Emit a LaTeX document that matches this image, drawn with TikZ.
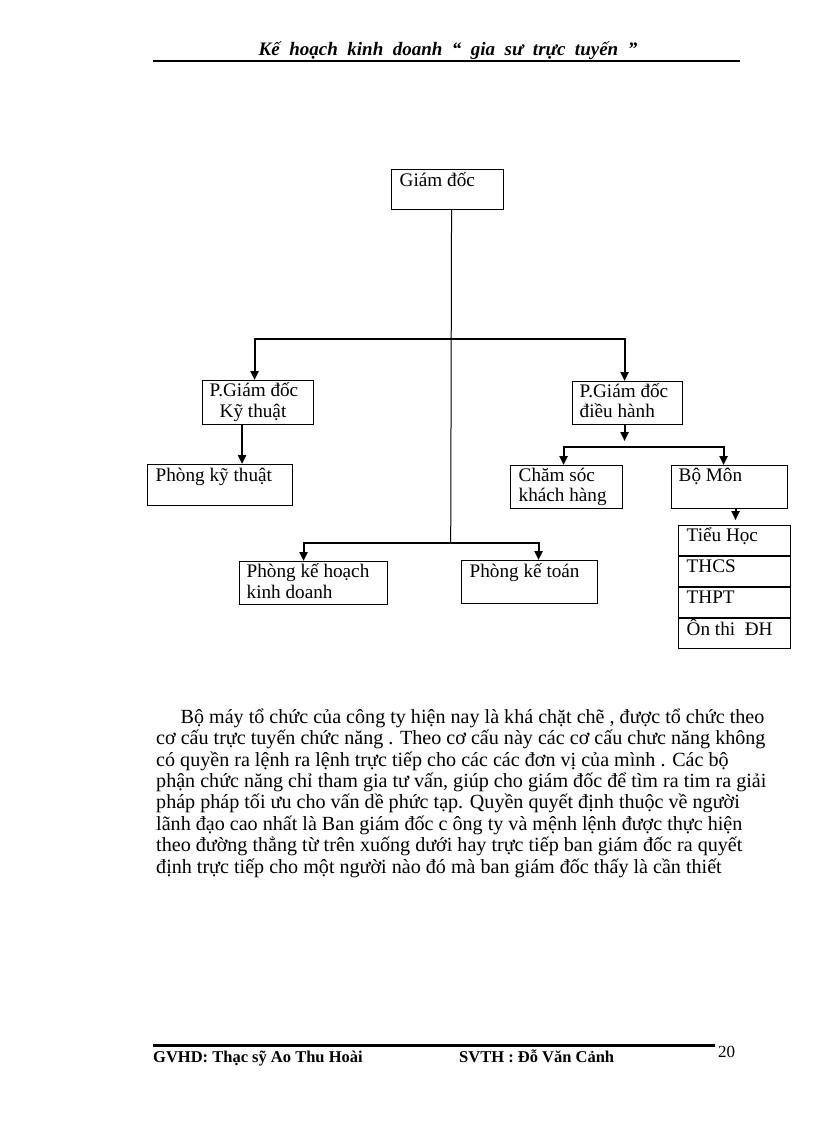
\documentclass[tikz,border=0pt]{standalone}
\usepackage{fontspec}
\setmainfont{Liberation Serif}
\usepackage{tikz}
\usetikzlibrary{positioning,arrows.meta,calc}
\newcommand\boxfnt{\fontsize{19.2}{20.4}\selectfont}
\newcommand\bodyfnt{\fontsize{20.1}{21.4}\selectfont}
\newcommand\headfnt{\fontsize{19}{22}\selectfont\bfseries\itshape\spaceskip=0.5em}
\newcommand\footfnt{\fontsize{16.5}{19}\selectfont\bfseries}
\tikzset{
  box/.style 2 args={draw,line width=1.1pt,inner sep=0pt,anchor=north west,minimum width=#1,minimum height=#2},
  lbl/.style 2 args={anchor=base west,inner sep=0pt,align=left,font=\boxfnt,xshift=#1,yshift=-#2},
  cell/.style={draw,line width=1.1pt,inner sep=0pt,minimum width=112,minimum height=30},
  txt/.style={anchor=base west,inner sep=0pt,font=\bodyfnt},
  ln/.style={line width=1pt},
  ar/.style={-{Triangle[length=9pt,width=8pt]},line width=2pt},
  rule/.style={line width=2.6pt},
}
\begin{document}
\begin{tikzpicture}[x=1pt,y=-1pt]
  \useasboundingbox (0,0) rectangle (816,1123);
  % page head
  \node[anchor=base,inner sep=0pt,font=\headfnt] (head) at (448,55.7) {Kế hoạch kinh doanh “ gia sư trực tuyến ”};
  \draw[rule] (153,61) -- (740,61);
  % chart
  \node[box={112}{40},label={[lbl={8.5}{18}]north west:Giám đốc}] (gd) at (391,169) {};
  \node[box={111}{44},label={[lbl={7.5}{37}]north west:P.Giám đốc\\\hspace*{10pt}Kỹ thuật}] (pgk) at (202,380) {};
  \node[box={145}{41},label={[lbl={8.5}{17.7}]north west:Phòng kỹ thuật}] (pkt) at (147,464) {};
  \node[box={148}{43},label={[lbl={7.5}{37}]north west:Phòng kế hoạch\\kinh doanh}] (khkd) at (239,561) {};
  \node[box={136}{43},label={[lbl={8.5}{17}]north west:Phòng kế toán}] (pkto) at (461,560) {};
  \node[box={110}{43},label={[lbl={7.5}{36.4}]north west:P.Giám đốc\\điều hành}] (pgd) at (572,381) {};
  \node[box={112}{43},label={[lbl={8.5}{36.4}]north west:Chăm sóc\\khách hàng}] (csk) at (510,465) {};
  \node[box={116}{43},label={[lbl={7.5}{16}]north west:Bộ Môn}] (bm) at (671,465) {};
  \node[cell,anchor=north west,label={[lbl={8.5}{16.7}]north west:Tiểu Học}] (th) at (678,525) {};
  \node[cell,below=0 of th,label={[lbl={8.5}{16.7}]north west:THCS}] (thcs) {};
  \node[cell,below=0 of thcs,label={[lbl={8.5}{16.7}]north west:THPT}] (thpt) {};
  \node[cell,below=0 of thpt,label={[lbl={8.5}{16.7}]north west:Ôn thi\ \ ĐH}] (dh) {};
  \coordinate (top) at (450.7,339);
  \coordinate (low) at (450.7,543);
  \coordinate (fork) at (643,447);
  \draw[ln] ([xshift=4]gd.south) -- (low);
  \draw[ar] (top) -| ([xshift=-3.5]pgk.north);
  \draw[ar] (top) -| ([xshift=-3]pgd.north);
  \draw[ar] ([xshift=-16]pgk.south) -- ([xshift=-16]pgk.south |- pkt.north);
  \draw[ar] (low) -| ([xshift=-10]khkd.north);
  \draw[ar] (low) -| ([xshift=9]pkto.north);
  \draw[ar] ([xshift=-3]pgd.south) -- ++(0,16);
  \draw[ar] (fork) -| ([xshift=-3]csk.north);
  \draw[ar] (fork) -| ([xshift=-6]bm.north);
  \draw[ar] ([xshift=6]bm.south) -- ++(0,11);
  % text below the chart
  \node[txt] (t1) at (180.5,723.3) {Bộ máy tổ chức của công ty hiện nay là khá chặt chẽ , được tổ chức theo};
  \node[txt] (t2) at (156,744.7) {cơ cấu trực tuyến chức năng . Theo cơ cấu này các cơ cấu chưc năng không};
  \node[txt] (t3) at (156,766.1) {có quyền ra lệnh ra lệnh trực tiếp cho các các đơn vị của mình . Các bộ};
  \node[txt] (t4) at (156,787.5) {phận chức năng chỉ tham gia tư vấn, giúp cho giám đốc để tìm ra tim ra giải};
  \node[txt] (t5) at (156,808.9) {pháp pháp tối ưu cho vấn dề phức tạp. Quyền quyết định thuộc về người};
  \node[txt] (t6) at (156,830.3) {lãnh đạo cao nhất là Ban giám đốc c ông ty và mệnh lệnh được thực hiện};
  \node[txt] (t7) at (156,851.7) {theo đường thẳng từ trên xuống dưới hay trực tiếp ban giám đốc ra quyết};
  \node[txt] (t8) at (156,873.1) {định trực tiếp cho một người nào đó mà ban giám đốc thấy là cần thiết};
  % page foot
  \draw[rule] (153,1045.7) -- (715,1045.7);
  \node[anchor=base west,inner sep=0pt,font=\footfnt] (gv) at (153,1062) {GVHD: Thạc sỹ Ao Thu Hoài};
  \node[anchor=base west,inner sep=0pt,font=\footfnt] (sv) at (459,1062) {SVTH : Đỗ Văn Cảnh};
  \node[anchor=base west,inner sep=0pt,font=\fontsize{17}{19}\selectfont] (pg) at (718,1057) {20};
\end{tikzpicture}
\end{document}
